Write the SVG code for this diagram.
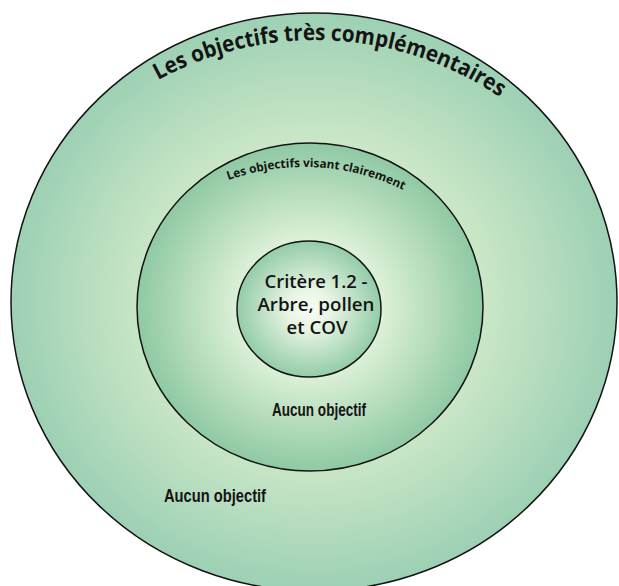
<svg xmlns="http://www.w3.org/2000/svg" width="619" height="586" viewBox="0 0 619 586">
<style>
.ring{stroke:#141414;stroke-width:1.5}
.arc{font-family:"Open Sans","Noto Sans",sans-serif;font-weight:700;fill:#141414}
.core{font-family:"Open Sans","Noto Sans",sans-serif;font-weight:600;font-size:17.5px;fill:#141414;text-anchor:middle}
.none{font-family:"Liberation Sans","Noto Sans",sans-serif;font-weight:700;font-size:18px;fill:#141414}
</style>
<defs>
<radialGradient id="gOuter">
<stop offset="0" stop-color="#eef7ea"/>
<stop offset="0.58" stop-color="#c8e6c6"/>
<stop offset="1" stop-color="#9dd0b4"/>
</radialGradient>
<radialGradient id="gMid">
<stop offset="0" stop-color="#f2f9ee"/>
<stop offset="0.42" stop-color="#dcf0d7"/>
<stop offset="1" stop-color="#8fc9a4"/>
</radialGradient>
<radialGradient id="gIn">
<stop offset="0" stop-color="#f8fcf5"/>
<stop offset="0.3" stop-color="#e8f5e3"/>
<stop offset="1" stop-color="#93cca8"/>
</radialGradient>
<path id="pOuter" d="M -13,368 A 328 328 0 0 1 643,368"/>
<path id="pMid" d="M 79,392 A 225 225 0 0 1 529,392"/>
</defs>
<rect width="619" height="586" fill="#ffffff"/>
<g id="outer">
<ellipse class="ring" cx="314" cy="302" rx="303" ry="289" fill="url(#gOuter)"/>
<text class="arc" font-size="22.5"><textPath href="#pOuter" startOffset="51.58%" text-anchor="middle" textLength="360" lengthAdjust="spacingAndGlyphs">Les objectifs très complémentaires</textPath></text>
<text class="none" x="164" y="502" textLength="102" lengthAdjust="spacingAndGlyphs">Aucun objectif</text>
</g>
<g id="middle">
<ellipse class="ring" cx="310" cy="307" rx="173" ry="164" fill="url(#gMid)"/>
<text class="arc" font-size="12"><textPath href="#pMid" startOffset="51.8%" text-anchor="middle" textLength="180" lengthAdjust="spacingAndGlyphs">Les objectifs visant clairement</textPath></text>
<text class="none" x="272" y="416" textLength="94" lengthAdjust="spacingAndGlyphs">Aucun objectif</text>
</g>
<g id="inner">
<ellipse class="ring" cx="309" cy="309" rx="72" ry="68" fill="url(#gIn)"/>
<text class="core" x="316" y="288" textLength="103" lengthAdjust="spacingAndGlyphs">Critère 1.2 -</text>
<text class="core" x="316" y="311" textLength="117" lengthAdjust="spacingAndGlyphs">Arbre, pollen</text>
<text class="core" x="317" y="334" textLength="61" lengthAdjust="spacingAndGlyphs">et COV</text>
</g>
</svg>
